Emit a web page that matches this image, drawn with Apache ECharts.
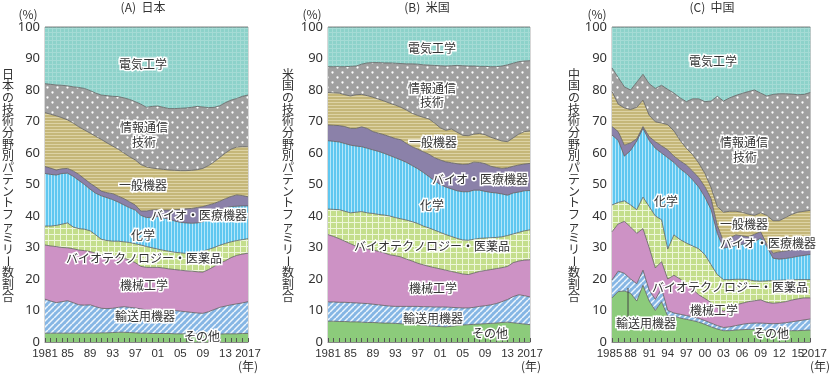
<!DOCTYPE html>
<html>
<head>
<meta charset="utf-8">
<script src="https://cdn.jsdelivr.net/npm/echarts@6/dist/echarts.min.js"></script>
<style>
html, body { margin: 0; padding: 0; background: #fff; }
#chart { width: 830px; height: 375px; }
</style>
</head>
<body>
<div id="chart"></div>
<script>
// 分野（下から順に積み上げ）
var fields = ['その他', '輸送用機器', '機械工学', 'バイオテクノロジー・医薬品', '化学', 'バイオ・医療機器', '一般機器', '情報通信技術', '電気工学'];

// 年
var yearsJP = [1981,1982,1983,1984,1985,1986,1987,1988,1989,1990,1991,1992,1993,1994,1995,1996,1997,1998,1999,2000,2001,2002,2003,2004,2005,2006,2007,2008,2009,2010,2011,2012,2013,2014,2015,2016,2017];
var yearsUS = yearsJP;
var yearsCN = [1985,1986,1987,1988,1989,1990,1991,1992,1993,1994,1995,1996,1997,1998,1999,2000,2001,2002,2003,2004,2005,2006,2007,2008,2009,2010,2011,2012,2013,2014,2015,2016,2017];

// 目盛りラベル
var tickYearsJP = [1981, 1985, 1989, 1993, 1997, 2001, 2005, 2009, 2013, 2017];
var tickLabelsJP = ['1981', '85', '89', '93', '97', '01', '05', '09', '13', '2017'];
var tickYearsCN = [1988, 1991, 1994, 1997, 2000, 2003, 2006, 2009, 2012, 2015];
var tickLabelsCN = ['88', '91', '94', '97', '00', '03', '06', '09', '12', '15'];
var endYearsCN = [1985, 2017], endLabelsCN = ['1985', '2017'];

// (A) 日本 (%)
var jpOther     = [2.8,2.8,2.8,2.8,2.8,2.8,2.8,2.8,2.8,2.8,2.9,2.9,3.0,3.1,3.1,3.0,2.9,2.8,2.8,2.7,2.7,2.7,2.7,2.6,2.6,2.6,2.6,2.6,2.5,2.5,2.5,2.5,2.6,2.6,2.6,2.7,2.7];
var jpTransport = [10.8,10.2,9.7,10.0,10.3,9.7,9.0,8.9,9.0,8.4,7.8,7.7,7.7,7.9,8.1,8.0,7.9,7.7,7.4,7.5,7.6,7.5,7.4,7.4,7.2,7.0,6.8,6.6,6.6,7.1,7.8,8.5,8.8,9.2,9.5,9.7,10.1];
var jpMech      = [17.2,17.5,17.8,17.2,16.8,17.1,17.4,17.3,16.9,17.0,17.0,16.9,16.7,16.0,15.4,15.0,14.4,13.5,13.5,13.5,13.4,13.3,13.1,13.0,13.0,13.0,13.1,13.1,13.1,13.4,13.7,14.0,14.4,15.0,15.4,15.5,15.4];
var jpBiotech   = [6.0,6.3,6.7,7.4,7.9,6.9,6.8,6.8,6.6,5.8,4.9,4.7,4.6,5.0,5.2,5.6,6.0,6.8,6.6,6.2,5.8,5.6,5.6,5.5,5.5,5.5,5.5,5.9,6.6,6.4,6.0,5.7,5.5,5.0,4.7,4.6,4.6];
var jpChem      = [16.7,16.4,16.0,16.1,15.8,16.1,15.3,14.2,13.2,13.2,13.8,13.6,13.2,12.4,11.7,11.0,10.7,9.4,9.2,9.7,10.3,10.3,10.2,9.9,9.7,9.7,9.7,9.6,9.4,9.9,10.8,11.2,11.3,11.2,10.9,10.7,10.4];
var jpBiomed    = [2.2,2.0,1.6,1.5,1.5,1.7,1.9,1.8,1.9,2.0,1.5,1.6,1.9,1.9,2.0,1.9,1.6,1.4,2.1,2.3,2.2,2.5,2.9,3.6,4.1,4.5,4.7,4.9,4.8,4.2,3.2,2.8,2.9,3.2,3.6,3.3,2.9];
var jpGeneral   = [17.1,17.1,17.2,16.2,15.4,15.2,15.1,15.5,15.9,16.1,16.4,15.8,15.1,14.9,14.5,14.3,14.3,14.7,14.0,13.3,13.0,12.9,12.7,12.5,12.3,12.1,12.1,12.0,12.1,12.5,13.2,13.9,14.5,15.0,15.2,15.5,15.9];
var jpIct       = [9.2,9.5,9.8,10.3,10.8,11.5,12.5,13.2,13.5,13.7,14.1,15.0,15.8,16.7,17.5,18.2,18.5,19.2,18.9,19.6,19.9,19.7,19.5,19.6,19.8,19.9,20.0,20.1,19.5,18.4,17.3,16.4,16.0,15.6,15.4,16.0,16.4];
var jpElec      = [18.0,18.2,18.4,18.5,18.7,19.0,19.2,19.5,20.2,21.0,21.6,21.8,22.0,22.1,22.5,23.0,23.7,24.5,25.5,25.2,25.1,25.5,25.9,25.9,25.8,25.7,25.5,25.2,25.4,25.6,25.5,25.0,24.0,23.2,22.7,22.0,21.6];

// (B) 米国 (%)
var usOther     = [6.6,6.6,6.5,6.5,6.4,6.4,6.3,6.2,6.2,6.1,6.0,6.0,5.9,5.8,5.7,5.6,5.5,5.3,5.1,5.0,4.9,4.8,5.0,5.2,5.4,5.5,5.6,5.7,5.8,5.9,6.0,6.2,6.3,6.1,5.9,5.7,5.5];
var usTransport = [6.1,6.1,6.1,6.1,6.1,6.0,6.0,6.0,5.8,5.7,5.6,5.4,5.4,5.5,5.6,5.7,5.8,5.9,6.1,6.1,6.2,6.3,6.0,5.7,5.4,5.3,5.4,5.6,5.7,5.9,6.2,6.6,7.2,8.3,9.1,9.0,8.8];
var usMech      = [21.4,20.8,20.2,19.4,18.7,18.0,17.6,17.4,17.2,17.0,16.7,16.3,16.1,15.7,15.0,14.4,13.7,13.3,12.8,12.5,12.1,11.7,11.4,11.1,10.8,10.6,10.9,11.1,11.2,11.2,11.1,10.8,10.5,10.8,10.7,11.3,11.8];
var usBiotech   = [8.1,8.6,9.2,9.5,9.8,10.8,11.5,11.4,11.6,11.7,12.0,12.3,12.1,12.1,12.4,12.5,12.6,12.3,12.2,11.9,11.6,11.3,11.1,10.9,10.8,10.9,10.7,10.5,10.3,10.1,9.9,9.8,9.8,9.1,9.1,9.3,9.5];
var usChem      = [21.7,21.6,21.5,21.5,21.5,21.0,20.6,20.5,20.2,20.0,19.6,19.2,19.0,18.7,18.3,17.8,17.4,17.0,16.3,15.7,15.2,15.1,15.1,15.1,15.3,15.4,15.6,15.3,14.8,14.4,14.1,13.6,12.8,13.0,12.8,12.7,12.5];
var usBiomed    = [5.0,5.1,5.2,5.4,5.3,5.6,6.3,6.3,5.8,5.8,5.9,6.0,6.1,6.4,6.0,6.0,6.2,6.6,7.1,7.3,7.8,8.0,8.3,8.6,8.7,8.8,8.9,8.8,8.8,8.3,8.1,8.1,8.7,8.5,8.6,8.5,8.6];
var usGeneral   = [10.3,10.3,10.3,10.1,10.3,10.7,10.3,10.4,10.9,10.8,10.7,10.6,10.6,10.3,10.6,10.6,10.7,10.9,11.2,11.0,10.2,10.0,10.7,10.0,9.2,9.0,8.9,9.2,9.2,9.2,9.0,8.7,8.3,9.0,9.8,10.3,10.3];
var usIct       = [8.2,8.3,8.4,8.9,9.4,9.1,9.6,10.4,11.0,11.6,12.1,12.8,13.3,13.9,14.7,15.7,16.3,16.7,17.1,18.3,19.7,20.4,20.1,21.2,22.1,22.1,21.6,21.3,21.7,22.4,23.0,23.8,24.4,23.7,23.0,22.4,22.3];
var usElec      = [12.6,12.6,12.6,12.6,12.5,12.4,11.8,11.4,11.3,11.3,11.4,11.4,11.5,11.6,11.7,11.7,11.8,12.0,12.1,12.2,12.3,12.4,12.3,12.2,12.3,12.4,12.4,12.5,12.5,12.6,12.6,12.4,12.0,11.5,11.0,10.8,10.7];

// (C) 中国 (%)
var cnOther     = [14.0,16.0,16.2,15.5,13.0,18.0,13.0,10.0,12.8,8.2,8.2,7.6,7.2,6.8,6.3,5.6,4.8,4.1,3.6,3.6,3.8,3.9,4.0,4.0,3.9,3.7,3.5,3.5,3.5,3.6,3.6,3.7,3.8];
var cnTransport = [5.7,6.5,5.6,4.5,5.5,4.8,3.5,3.5,4.2,1.8,1.0,1.2,1.2,1.2,1.2,1.2,1.2,1.1,1.0,1.2,1.4,1.7,1.9,2.0,2.1,2.2,2.3,2.4,2.6,2.8,3.1,3.3,3.5];
var cnMech      = [15.3,15.0,16.5,16.5,16.0,13.2,13.5,10.0,8.5,10.0,12.0,11.2,10.1,8.8,7.5,7.0,6.5,5.6,5.2,6.0,6.6,6.7,6.9,7.1,7.4,6.7,6.5,6.6,6.7,6.9,7.0,7.0,6.7];
var cnBiotech   = [8.5,6.8,6.5,7.0,7.5,10.0,13.0,16.5,13.3,9.5,12.8,12.5,12.9,13.7,14.6,13.9,12.0,10.6,10.0,9.0,8.1,7.6,7.0,6.3,5.9,6.8,7.2,7.1,6.9,6.4,6.1,5.8,5.8];
var cnChem      = [22.2,19.7,14.2,17.3,21.8,21.8,21.0,21.5,21.2,29.0,23.0,22.5,22.1,21.0,19.6,18.3,17.5,13.1,10.0,10.4,10.7,11.1,11.5,12.4,13.7,10.9,7.1,6.7,6.8,7.1,7.4,7.7,8.0];
var cnBiomed    = [2.7,2.8,3.5,2.4,0.7,0.6,1.2,2.1,2.3,2.5,2.0,2.5,2.7,2.8,3.0,3.3,3.5,2.5,2.2,2.8,3.4,2.7,2.1,2.4,2.0,0.7,1.6,2.3,2.4,2.4,2.2,2.1,1.9];
var cnGeneral   = [11.1,8.7,11.8,10.6,10.0,8.4,6.8,6.3,7.2,8.0,8.0,6.5,5.3,5.2,4.6,4.2,3.5,6.0,9.2,8.5,7.5,7.5,7.2,6.0,6.0,9.2,10.3,9.9,10.6,11.3,11.8,11.9,12.1];
var cnIct       = [7.5,8.5,6.7,6.2,8.0,8.2,10.0,10.6,12.0,11.2,12.0,13.5,14.8,17.7,20.4,22.8,27.5,35.0,35.3,36.0,36.8,37.7,38.9,39.8,38.0,37.9,40.1,40.3,39.3,38.2,37.3,37.1,37.4];
var cnElec      = [13.0,16.0,19.0,20.0,17.5,15.0,18.0,19.5,18.5,19.8,21.0,22.5,23.7,22.8,22.8,23.7,23.5,22.0,23.5,22.5,21.7,21.1,20.5,20.0,21.0,21.9,21.4,21.2,21.2,21.3,21.5,21.4,20.8];

var FONT = '"Noto Sans CJK JP", "Noto Sans", sans-serif';
var NUM = '"Liberation Sans", sans-serif';

// 模様
function pat(w, h, base, draw) {
  var c = document.createElement('canvas');
  c.width = w; c.height = h;
  var g = c.getContext('2d');
  g.fillStyle = base; g.fillRect(0, 0, w, h);
  if (draw) draw(g);
  return { image: c, repeat: 'repeat' };
}
var fills = [
  '#8ccb7b',
  pat(6, 6, '#86b6e4', function (g) {
    g.strokeStyle = '#eef6fd'; g.lineWidth = 1.5;
    for (var k = -6; k <= 6; k += 6) { g.beginPath(); g.moveTo(k, 6); g.lineTo(k + 6, 0); g.stroke(); }
  }),
  '#cd92c5',
  pat(6, 6, '#c4de8c', function (g) { g.fillStyle = '#eef7da'; g.fillRect(0, 0, 6, 1); g.fillRect(0, 0, 1, 6); }),
  pat(3, 3, '#5fc7f0', function (g) { g.fillStyle = '#b4e7fa'; g.fillRect(0, 0, 1, 3); }),
  '#8b81a9',
  pat(3, 3, '#c5b779', function (g) { g.fillStyle = '#ddd3a5'; g.fillRect(0, 0, 3, 1); }),
  pat(10, 10, '#a0a0a0', function (g) {
    g.fillStyle = '#fff';
    [[2.5, 2.5], [7.5, 7.5]].forEach(function (p) { g.beginPath(); g.arc(p[0], p[1], 1.15, 0, Math.PI * 2); g.fill(); });
  }),
  pat(4, 4, '#8dd2ca', function (g) { g.fillStyle = '#a5dbd5'; g.fillRect(0, 0, 4, 1); g.fillRect(0, 0, 1, 4); })
];

var panels = [
  { left: 45, width: 203, years: yearsJP, ty: tickYearsJP, tl: tickLabelsJP,
    data: [jpOther, jpTransport, jpMech, jpBiotech, jpChem, jpBiomed, jpGeneral, jpIct, jpElec] },
  { left: 328, width: 202, years: yearsUS, ty: tickYearsJP, tl: tickLabelsJP,
    data: [usOther, usTransport, usMech, usBiotech, usChem, usBiomed, usGeneral, usIct, usElec] },
  { left: 612, width: 203, years: yearsCN, ty: tickYearsCN, tl: tickLabelsCN,
    data: [cnOther, cnTransport, cnMech, cnBiotech, cnChem, cnBiomed, cnGeneral, cnIct, cnElec] }
];

var labelText = { fontSize: 11.5, color: '#333', fontFamily: NUM };

var grids = [], xAxes = [], yAxes = [], series = [];
panels.forEach(function (p, i) {
  grids.push({ left: p.left, top: 27, width: p.width, height: 315, show: true, borderColor: '#b0b0b0', borderWidth: 1 });
  xAxes.push({
    type: 'category', gridIndex: i, position: 'bottom', data: p.years.map(String), boundaryGap: false, z: 10,
    axisLine: { show: true, lineStyle: { color: '#888' } },
    axisTick: { show: true, inside: true, length: 4, interval: 0, lineStyle: { color: '#555' } },
    axisLabel: Object.assign({
      interval: function (idx, v) { return p.ty.indexOf(+v) >= 0; },
      formatter: function (v) { var k = p.ty.indexOf(+v); return k >= 0 ? p.tl[k] : ''; },
      margin: 6, hideOverlap: false
    }, labelText),
    splitLine: { show: false }
  });
  yAxes.push({
    type: 'value', gridIndex: i, min: 0, max: 100, interval: 10,
    axisLine: { show: false }, axisTick: { show: false }, splitLine: { show: false },
    axisLabel: { fontSize: 13, color: '#333', margin: 5, fontFamily: '"Noto Sans", sans-serif' }
  });
  p.data.forEach(function (d, k) {
    series.push({
      name: fields[k], type: 'line', xAxisIndex: i, yAxisIndex: i, stack: 'p' + i,
      data: d, symbol: 'none', silent: true,
      lineStyle: { color: '#5e5e5e', width: 0.8 },
      areaStyle: { color: fills[k], opacity: 1 }
    });
  });
});
// 中国の両端の年ラベル（隣と重ならないよう別軸に置く）
xAxes.push({
  type: 'category', gridIndex: 2, position: 'bottom', data: yearsCN.map(String), boundaryGap: false,
  axisLine: { show: false }, axisTick: { show: false }, splitLine: { show: false },
  axisLabel: Object.assign({
    interval: function (idx, v) { return endYearsCN.indexOf(+v) >= 0; },
    formatter: function (v) {
      var k = endYearsCN.indexOf(+v);
      if (k < 0) return '';
      return '{' + (+v === 2017 ? 'r' : 'l') + '|' + endLabelsCN[k] + '}';
    },
    rich: {
      l: Object.assign({ padding: [0, 5, 0, 0] }, labelText),
      r: Object.assign({ padding: [0, 0, 0, 8] }, labelText)
    },
    margin: 6, showMinLabel: true, showMaxLabel: true
  }, labelText)
});

// 注記
function label(x, y, text) {
  return { type: 'text', x: x, y: y, z: 100,
    style: { text: text, fill: '#333', stroke: '#fff', lineWidth: 3, font: '12px ' + FONT,
      align: 'center', verticalAlign: 'middle', textAlign: 'center', textVerticalAlign: 'middle' } };
}
function plain(x, y, text, size) {
  return { type: 'text', x: x, y: y, z: 100,
    style: { text: text, fill: '#333', font: (size || 12) + 'px ' + FONT,
      align: 'center', verticalAlign: 'middle', textAlign: 'center', textVerticalAlign: 'middle' } };
}
function vertical(x, y0, text) {
  var step = 11.7, out = [];
  Array.from(text).forEach(function (ch, i) {
    var el = plain(x, y0 + i * step, ch, 12);
    if (ch === 'ー') el.rotation = -Math.PI / 2;
    out.push(el);
  });
  return out;
}

var graphics = [
  plain(143, 7, '(A)  日本'), plain(427, 7, '(B)  米国'), plain(712, 7, '(C)  中国'),
  plain(28, 14, '(%)'), plain(312, 14, '(%)'), plain(597, 14, '(%)'),
  plain(248, 366, '(年)'), plain(531, 366, '(年)'), plain(820, 366, '(年)'),

  label(143, 64, '電気工学'), label(144, 127, '情報通信'), label(144, 142, '技術'),
  label(143, 185, '一般機器'), label(199, 215, 'バイオ・医療機器'), label(143, 235, '化学'),
  label(144, 258, 'バイオテクノロジー・医薬品'), label(144, 285, '機械工学'),
  label(145, 316, '輸送用機器'), label(202, 336, 'その他'),

  label(432, 48, '電気工学'), label(432, 88, '情報通信'), label(432, 102, '技術'),
  label(433, 142, '一般機器'), label(480, 179, 'バイオ・医療機器'), label(432, 205, '化学'),
  label(432, 246, 'バイオテクノロジー・医薬品'), label(433, 288, '機械工学'),
  label(433, 318, '輸送用機器'), label(490, 333, 'その他'),

  label(713, 61, '電気工学'), label(744, 142, '情報通信'), label(745, 157, '技術'),
  label(744, 224, '一般機器'), label(768, 243, 'バイオ・医療機器'), label(666, 201, '化学'),
  label(730, 287, 'バイオテクノロジー・医薬品'), label(714, 310, '機械工学'),
  label(771, 333, 'その他'),
  { type: 'line', z: 99, shape: { x1: 628, y1: 288, x2: 628, y2: 317 }, style: { stroke: '#444', lineWidth: 1 } },
  label(646, 323, '輸送用機器')
].concat(
  vertical(8, 74, '日本の技術分野別パテントファミリー数割合'),
  vertical(288, 74, '米国の技術分野別パテントファミリー数割合'),
  vertical(574, 74, '中国の技術分野別パテントファミリー数割合')
);

var chart = echarts.init(document.getElementById('chart'), null, { renderer: 'canvas' });
chart.setOption({
  animation: false,
  textStyle: { fontFamily: FONT },
  grid: grids,
  xAxis: xAxes,
  yAxis: yAxes,
  series: series,
  graphic: graphics
});
</script>
</body>
</html>
